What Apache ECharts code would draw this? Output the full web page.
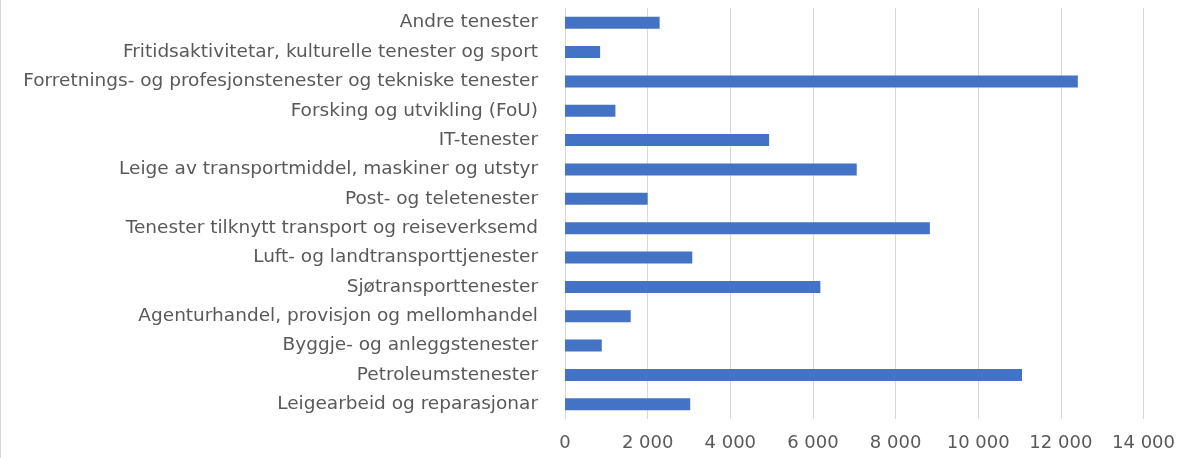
<!DOCTYPE html>
<html>
<head>
<meta charset="utf-8">
<script src="https://cdn.jsdelivr.net/npm/echarts@6/dist/echarts.min.js"></script>
<style>
  html, body { margin: 0; padding: 0; background: #fff; }
  #chart { width: 1178px; height: 458px; box-sizing: border-box; border-left: 1px solid #d9d9d9; }
</style>
</head>
<body>
<div id="chart"></div>
<script>
// top-to-bottom order, as in the picture
const categories = [
  'Andre tenester',
  'Fritidsaktivitetar, kulturelle tenester og sport',
  'Forretnings- og profesjonstenester og tekniske tenester',
  'Forsking og utvikling (FoU)',
  'IT-tenester',
  'Leige av transportmiddel, maskiner og utstyr',
  'Post- og teletenester',
  'Tenester tilknytt transport og reiseverksemd',
  'Luft- og landtransporttjenester',
  'Sjøtransporttenester',
  'Agenturhandel, provisjon og mellomhandel',
  'Byggje- og anleggstenester',
  'Petroleumstenester',
  'Leigearbeid og reparasjonar'
]
const values = [2290, 850, 12410, 1220, 4940, 7060, 2000, 8830, 3080, 6180, 1590, 890, 11060, 3030]
const axisMax = 14000
const axisStep = 2000

function spaceThousands(v) {
    return String(v).replace(/\B(?=(\d{3})+(?!\d))/g, ' ')
}

let chart = echarts.init(document.getElementById('chart'))
chart.setOption({
    animation: false,
    textStyle: { fontFamily: 'DejaVu Sans' },
    grid: {
        left: 564,
        right: 30,
        top: 8,
        bottom: 39
    },
    xAxis: {
        type: 'value',
        min: 0,
        max: axisMax,
        interval: axisStep,
        axisLine: { show: false },
        axisTick: { show: false },
        axisLabel: {
            color: '#595959',
            fontSize: 18,
            margin: 15,
            formatter: spaceThousands
        },
        splitLine: { lineStyle: { color: '#d9d9d9', width: 1 } }
    },
    yAxis: {
        type: 'category',
        inverse: true,
        data: categories,
        axisLine: { lineStyle: { color: '#d9d9d9' } },
        axisTick: { show: false },
        axisLabel: {
            color: '#595959',
            fontSize: 18.5,
            margin: 27
        }
    },
    series: [
        {
            type: 'bar',
            data: values,
            barWidth: 12,
            itemStyle: { color: '#4472C4' }
        }
    ]
})
</script>
</body>
</html>
